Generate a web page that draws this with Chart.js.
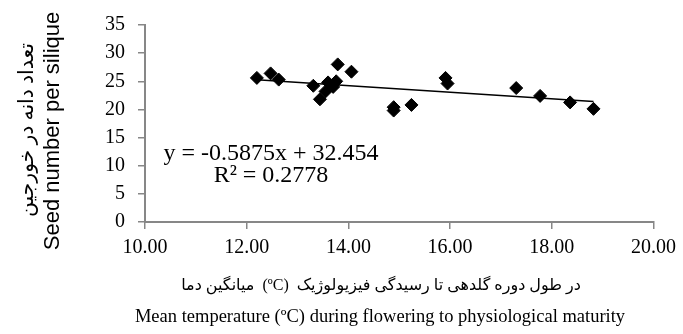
<!DOCTYPE html>
<html>
<head>
<meta charset="utf-8">
<script src="https://cdn.jsdelivr.net/npm/chart.js@4"></script>
<style>
  body { margin: 0; background: #fff; }
  canvas { display: block; }
</style>
</head>
<body>
<canvas id="seedChart" width="683" height="334"></canvas>
<script>
// Mean temperature (x) vs seed number per silique (y)
const temps = [12.20, 12.47, 12.63, 13.31, 13.44, 13.55, 13.60, 13.70, 13.76, 13.79, 14.06,
  14.89, 14.89, 15.24, 15.91, 15.95, 17.30, 17.77, 18.36, 18.82];
const seeds = [25.6, 26.4, 25.3, 24.2, 21.8, 23.2, 24.8, 24.0, 25.0, 28.0, 26.7,
  19.8, 20.4, 20.8, 25.6, 24.6, 23.8, 22.4, 21.25, 20.1];

// Linear trendline as printed on the chart
const slope = -0.5875;
const intercept = 32.454;
const eqText = 'y = -0.5875x + 32.454';
const r2Text = 'R² = 0.2778';

const yTicks = [0, 5, 10, 15, 20, 25, 30, 35];
const xTicks = [10, 12, 14, 16, 18, 20];

const yTitleFa = 'تعداد دانه در خورجین';
const yTitleEn = 'Seed number per silique';
// persian x title is laid out in three pieces, left to right as in the figure
const xTitleFaParts = ['میانگین دما', '(ºC)', 'در طول دوره گلدهی تا رسیدگی فیزیولوژیک'];
const xTitleEn = 'Mean temperature (ºC) during flowering to physiological maturity';

const points = temps.map((t, i) => ({ x: t, y: seeds[i] }));
const xMin = Math.min(...temps);
const xMax = Math.max(...temps);
const trend = [
  { x: xMin, y: slope * xMin + intercept },
  { x: xMax, y: slope * xMax + intercept },
];

const axisGrey = '#878787';
const faFont = '"Liberation Serif", "DejaVu Sans"';

// pick a font size so the text fills a given width
function fitFont(ctx, text, family, width, maxSize) {
  ctx.font = maxSize + 'px ' + family;
  const w = ctx.measureText(text).width;
  return Math.min(maxSize, maxSize * width / w);
}

function drawFaXTitle(ctx, cx, cy, width) {
  // measure at 18px, then scale to the wanted total width
  let fs = 18;
  ctx.font = fs + 'px ' + faFont;
  const gap = ctx.measureText('  ').width;
  let total = xTitleFaParts.reduce((s, p) => s + ctx.measureText(p).width, 0) + gap * 2;
  fs = Math.min(18, fs * width / total);
  ctx.font = fs + 'px ' + faFont;
  const g = ctx.measureText('  ').width;
  const ws = xTitleFaParts.map(p => ctx.measureText(p).width);
  total = ws[0] + ws[1] + ws[2] + g * 2;
  let x = cx - total / 2;
  ctx.textAlign = 'left';
  xTitleFaParts.forEach((p, i) => {
    ctx.fillText(p, x, cy);
    x += ws[i] + g;
  });
  ctx.textAlign = 'center';
}

// titles and equation text
const textPlugin = {
  id: 'texts',
  afterDraw(chart) {
    const ctx = chart.ctx;
    ctx.save();
    ctx.fillStyle = '#000';
    ctx.textAlign = 'center';
    ctx.textBaseline = 'middle';

    // equation
    ctx.font = '24px "Liberation Serif"';
    ctx.fillText(eqText, 271, 154);
    ctx.fillText(r2Text, 271, 176);

    // x titles
    drawFaXTitle(ctx, 381, 286, 400);
    ctx.font = '18.5px "Liberation Serif"';
    ctx.fillText(xTitleEn, 380, 317);

    // y titles
    ctx.save();
    ctx.translate(28, 130);
    ctx.rotate(-Math.PI / 2);
    ctx.font = fitFont(ctx, yTitleFa, faFont, 174, 21) + 'px ' + faFont;
    ctx.fillText(yTitleFa, 0, 0);
    ctx.restore();

    ctx.save();
    ctx.translate(53, 131);
    ctx.rotate(-Math.PI / 2);
    ctx.font = '22px "Liberation Sans"';
    ctx.fillText(yTitleEn, 0, 0);
    ctx.restore();

    ctx.restore();
  }
};

new Chart(document.getElementById('seedChart').getContext('2d'), {
  type: 'scatter',
  data: {
    datasets: [
      {
        data: points,
        pointStyle: 'rectRot',
        pointRadius: 6.5,
        backgroundColor: '#000',
        borderColor: '#000',
        borderWidth: 1,
        order: 1,
      },
      {
        data: trend,
        showLine: true,
        borderColor: '#000',
        borderWidth: 1.5,
        pointRadius: 0,
        order: 2,
      },
    ],
  },
  options: {
    responsive: false,
    animation: false,
    layout: { padding: { top: 18, right: 25, bottom: 0, left: 0 } },
    plugins: {
      legend: { display: false },
      tooltip: { enabled: false },
    },
    scales: {
      x: {
        type: 'linear',
        min: xTicks[0],
        max: xTicks[xTicks.length - 1],
        afterBuildTicks: (scale) => { scale.ticks = xTicks.map(v => ({ value: v })); },
        afterFit: (scale) => { scale.height = 112; },
        grid: { drawOnChartArea: false, drawTicks: true, tickLength: 7, color: axisGrey, lineWidth: 1.5 },
        border: { color: axisGrey, width: 2 },
        ticks: {
          color: '#000',
          padding: 7,
          font: { family: 'Liberation Serif', size: 20 },
          maxRotation: 0,
          callback: (v) => Number(v).toFixed(2),
        },
      },
      y: {
        min: yTicks[0],
        max: yTicks[yTicks.length - 1],
        afterBuildTicks: (scale) => { scale.ticks = yTicks.map(v => ({ value: v })); },
        afterFit: (scale) => { scale.width = 145; },
        grid: { drawOnChartArea: false, drawTicks: true, tickLength: 7, color: axisGrey, lineWidth: 1.5 },
        border: { color: axisGrey, width: 2 },
        ticks: {
          color: '#000',
          padding: 13,
          font: { family: 'Liberation Serif', size: 20 },
        },
      },
    },
  },
  plugins: [textPlugin],
});
</script>
</body>
</html>
